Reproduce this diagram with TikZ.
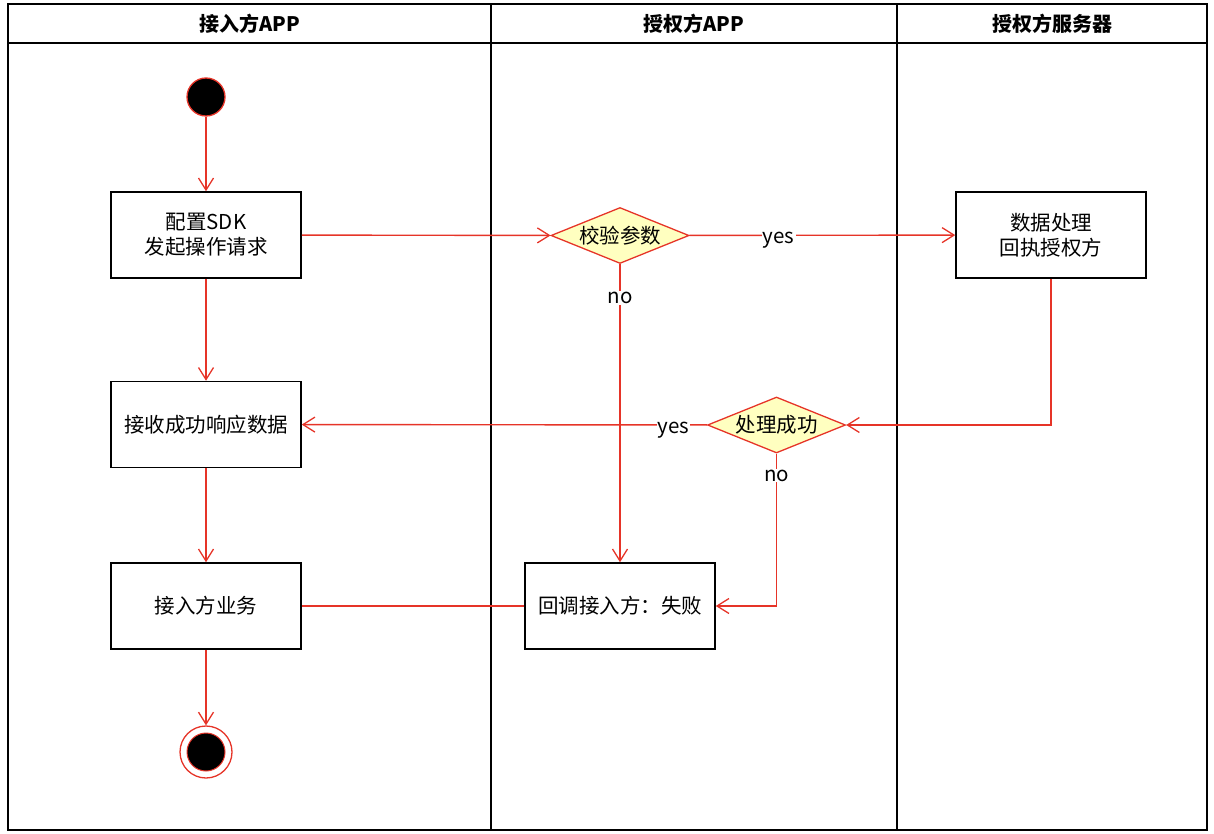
\documentclass[tikz,border=0pt]{standalone}
\usepackage{fontspec}
\setmainfont{Noto Sans CJK SC}
\usetikzlibrary{shapes.geometric,arrows.meta}
\definecolor{lred}{RGB}{230,52,40}
\definecolor{dfill}{RGB}{255,255,192}
\begin{document}
\begin{tikzpicture}[x=1pt,y=-1pt,
  every node/.style={font=\fontsize{20.5}{25}\selectfont},
  actbox/.style={draw=black,line width=1.5pt,minimum width=190pt,minimum height=86pt,align=center,inner sep=0pt},
  decision/.style={diamond,draw=lred,fill=dfill,line width=1.3pt,minimum width=138pt,minimum height=56pt,inner sep=0pt,aspect=2.5},
  flow/.style={draw=lred,line width=1.4pt,-{Straight Barb[length=12pt,width=15pt,line width=1.3pt]}},
  plainflow/.style={draw=lred,line width=1.4pt},
  lbl/.style={fill=white,inner sep=1pt},
  lane/.style={draw=black,line width=1.8pt},
  header/.style={font=\fontsize{20}{24}\selectfont\bfseries}
]
\useasboundingbox (0,0) rectangle (1214,834);
% swimlanes
\draw[lane] (8,4) rectangle (1207,830);
\draw[lane] (8,43) -- (1207,43);
\draw[lane] (491,4) -- (491,830);
\draw[lane] (897,4) -- (897,830);
\node[header] (h1) at (249.5,23.5) {接入方APP};
\node[header] (h2) at (694,23.5) {授权方APP};
\node[header] (h3) at (1052,23.5) {授权方服务器};
% nodes
\node[circle,draw=lred,fill=black,line width=1.3pt,minimum size=38pt,inner sep=0pt] (start) at (206,97) {};
\node[actbox] (b1) at (206,235) {配置SDK\\发起操作请求};
\node[actbox] (b2) at (206,424.5) {接收成功响应数据};
\node[actbox] (b3) at (206,606) {接入方业务};
\node[circle,draw=lred,fill=white,line width=1.3pt,minimum size=52pt,inner sep=0pt] (endo) at (206,752) {};
\node[circle,draw=lred,fill=black,line width=1pt,minimum size=38pt,inner sep=0pt] (endi) at (206,752) {};
\node[decision] (d1) at (620,235.5) {校验参数};
\node[decision] (d2) at (776.5,425) {处理成功};
\node[actbox] (b4) at (1051,235) {数据处理\\回执授权方};
\node[actbox] (b5) at (620,606) {回调接入方：失败};
% edges
\draw[flow] (start) -- (b1);
\draw[flow] (b1) -- (b2);
\draw[flow] (b2) -- (b3);
\draw[flow] (b3) -- (endo);
\draw[flow] (b1) -- (d1);
\draw[flow] (d1) -- node[lbl,pos=0.336,yshift=-5pt] {yes} (b4);
\draw[flow] (d1) -- node[lbl,pos=0.113] {no} (b5);
\draw[flow] (b4.south) |- (d2.east);
\draw[flow] (d2) -- node[lbl,pos=0.083,yshift=-5pt] {yes} (b2);
\draw[flow] (d2.south) |- node[lbl,pos=0.072] {no} (b5.east);
\draw[plainflow] (b5) -- (b3);
\end{tikzpicture}
\end{document}
